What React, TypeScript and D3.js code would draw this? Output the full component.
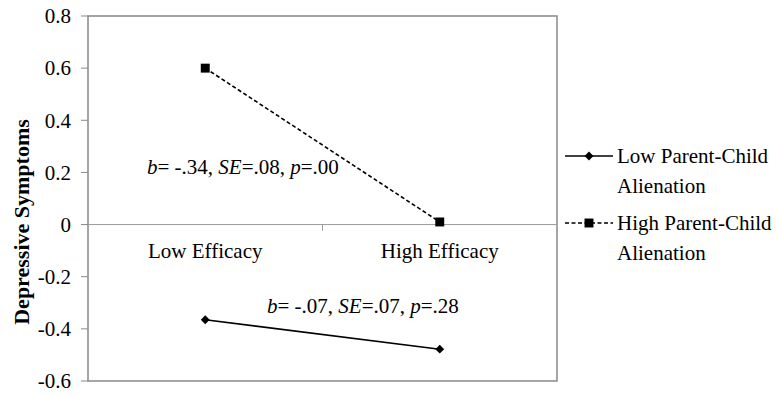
import React from "react";
import * as d3 from "d3";

const categories = ["Low Efficacy", "High Efficacy"];
const lowAlienation = [-0.365, -0.478];
const highAlienation = [0.6, 0.01];
const yTicks = [0.8, 0.6, 0.4, 0.2, 0, -0.2, -0.4, -0.6];
const seriesNames = [
  ["Low Parent-Child", "Alienation"],
  ["High Parent-Child", "Alienation"],
];
const annotationHigh = [
  { t: "b", i: true }, { t: "= -.34, ", i: false }, { t: "SE", i: true },
  { t: "=.08, ", i: false }, { t: "p", i: true }, { t: "=.00", i: false },
];
const annotationLow = [
  { t: "b", i: true }, { t: "= -.07, ", i: false }, { t: "SE", i: true },
  { t: "=.07, ", i: false }, { t: "p", i: true }, { t: "=.28", i: false },
];

const W = 779;
const H = 397;
const FONT = "'Liberation Serif', 'Times New Roman', serif";

export default function App() {
  const x = d3.scaleBand<string>().domain(categories).range([88, 557]).padding(0);
  const y = d3.scaleLinear().domain([-0.6, 0.8]).range([381, 16]);
  const cx = (c: string) => (x(c) as number) + x.bandwidth() / 2;
  const line = d3
    .line<number>()
    .x((_, i) => cx(categories[i]))
    .y((d) => y(d));

  const diamond = d3.symbol().type(d3.symbolDiamond2 ?? d3.symbolDiamond).size(50)();
  const square = d3.symbol().type(d3.symbolSquare).size(80)();

  const series = [
    { values: lowAlienation, dash: undefined as string | undefined, marker: diamond },
    { values: highAlienation, dash: "4,2.5", marker: square },
  ];

  const bandEdges = [x(categories[1]) as number];
  const fmt = (t: number) => (t === 0 ? "0" : d3.format(".1f")(t).replace("\u2212", "-"));

  return (
    <svg
      width={W}
      height={H}
      style={{ position: "absolute", left: 0, top: 0, background: "#fff", fontFamily: FONT }}
    >
      <rect x={88} y={16} width={557 - 88} height={381 - 16} fill="none" stroke="#888" strokeWidth={1.5} />
      <line x1={88} x2={557} y1={y(0)} y2={y(0)} stroke="#999" strokeWidth={1} />
      {bandEdges.map((bx, i) => (
        <line key={i} x1={bx} x2={bx} y1={y(0)} y2={y(0) + 6} stroke="#999" strokeWidth={1} />
      ))}
      {yTicks.map((t) => (
        <g key={t}>
          <line x1={81} x2={88} y1={y(t)} y2={y(t)} stroke="#888" strokeWidth={1} />
          <text x={71} y={y(t)} dy="0.35em" textAnchor="end" fontSize={21} fill="#000">
            {fmt(t)}
          </text>
        </g>
      ))}
      {categories.map((c) => (
        <text key={c} x={cx(c)} y={258} textAnchor="middle" fontSize={21} fill="#000">
          {c}
        </text>
      ))}
      <text
        transform={`translate(29,222) rotate(-90)`}
        textAnchor="middle"
        fontSize={22}
        fontWeight="bold"
        fill="#000"
      >
        Depressive Symptoms
      </text>
      {series.map((s, si) => (
        <g key={si}>
          <path d={line(s.values) || ""} fill="none" stroke="#000" strokeWidth={1.6} strokeDasharray={s.dash} />
          {s.values.map((v, i) => (
            <path key={i} d={s.marker || ""} transform={`translate(${cx(categories[i])},${y(v)})`} fill="#000" />
          ))}
        </g>
      ))}
      <text x={147} y={174} fontSize={21} fill="#000">
        {annotationHigh.map((p, i) => (
          <tspan key={i} fontStyle={p.i ? "italic" : "normal"}>{p.t}</tspan>
        ))}
      </text>
      <text x={267} y={313} fontSize={21} fill="#000">
        {annotationLow.map((p, i) => (
          <tspan key={i} fontStyle={p.i ? "italic" : "normal"}>{p.t}</tspan>
        ))}
      </text>
      {series.map((s, si) => {
        const ly = si === 0 ? 156 : 223;
        return (
          <g key={si}>
            <line x1={565} x2={613} y1={ly} y2={ly} stroke="#000" strokeWidth={1.6} strokeDasharray={s.dash} />
            <path d={s.marker || ""} transform={`translate(589,${ly})`} fill="#000" />
            {seriesNames[si].map((nm, li) => (
              <text key={li} x={617} y={ly + 7 + li * 30} fontSize={21} fill="#000">
                {nm}
              </text>
            ))}
          </g>
        );
      })}
    </svg>
  );
}
